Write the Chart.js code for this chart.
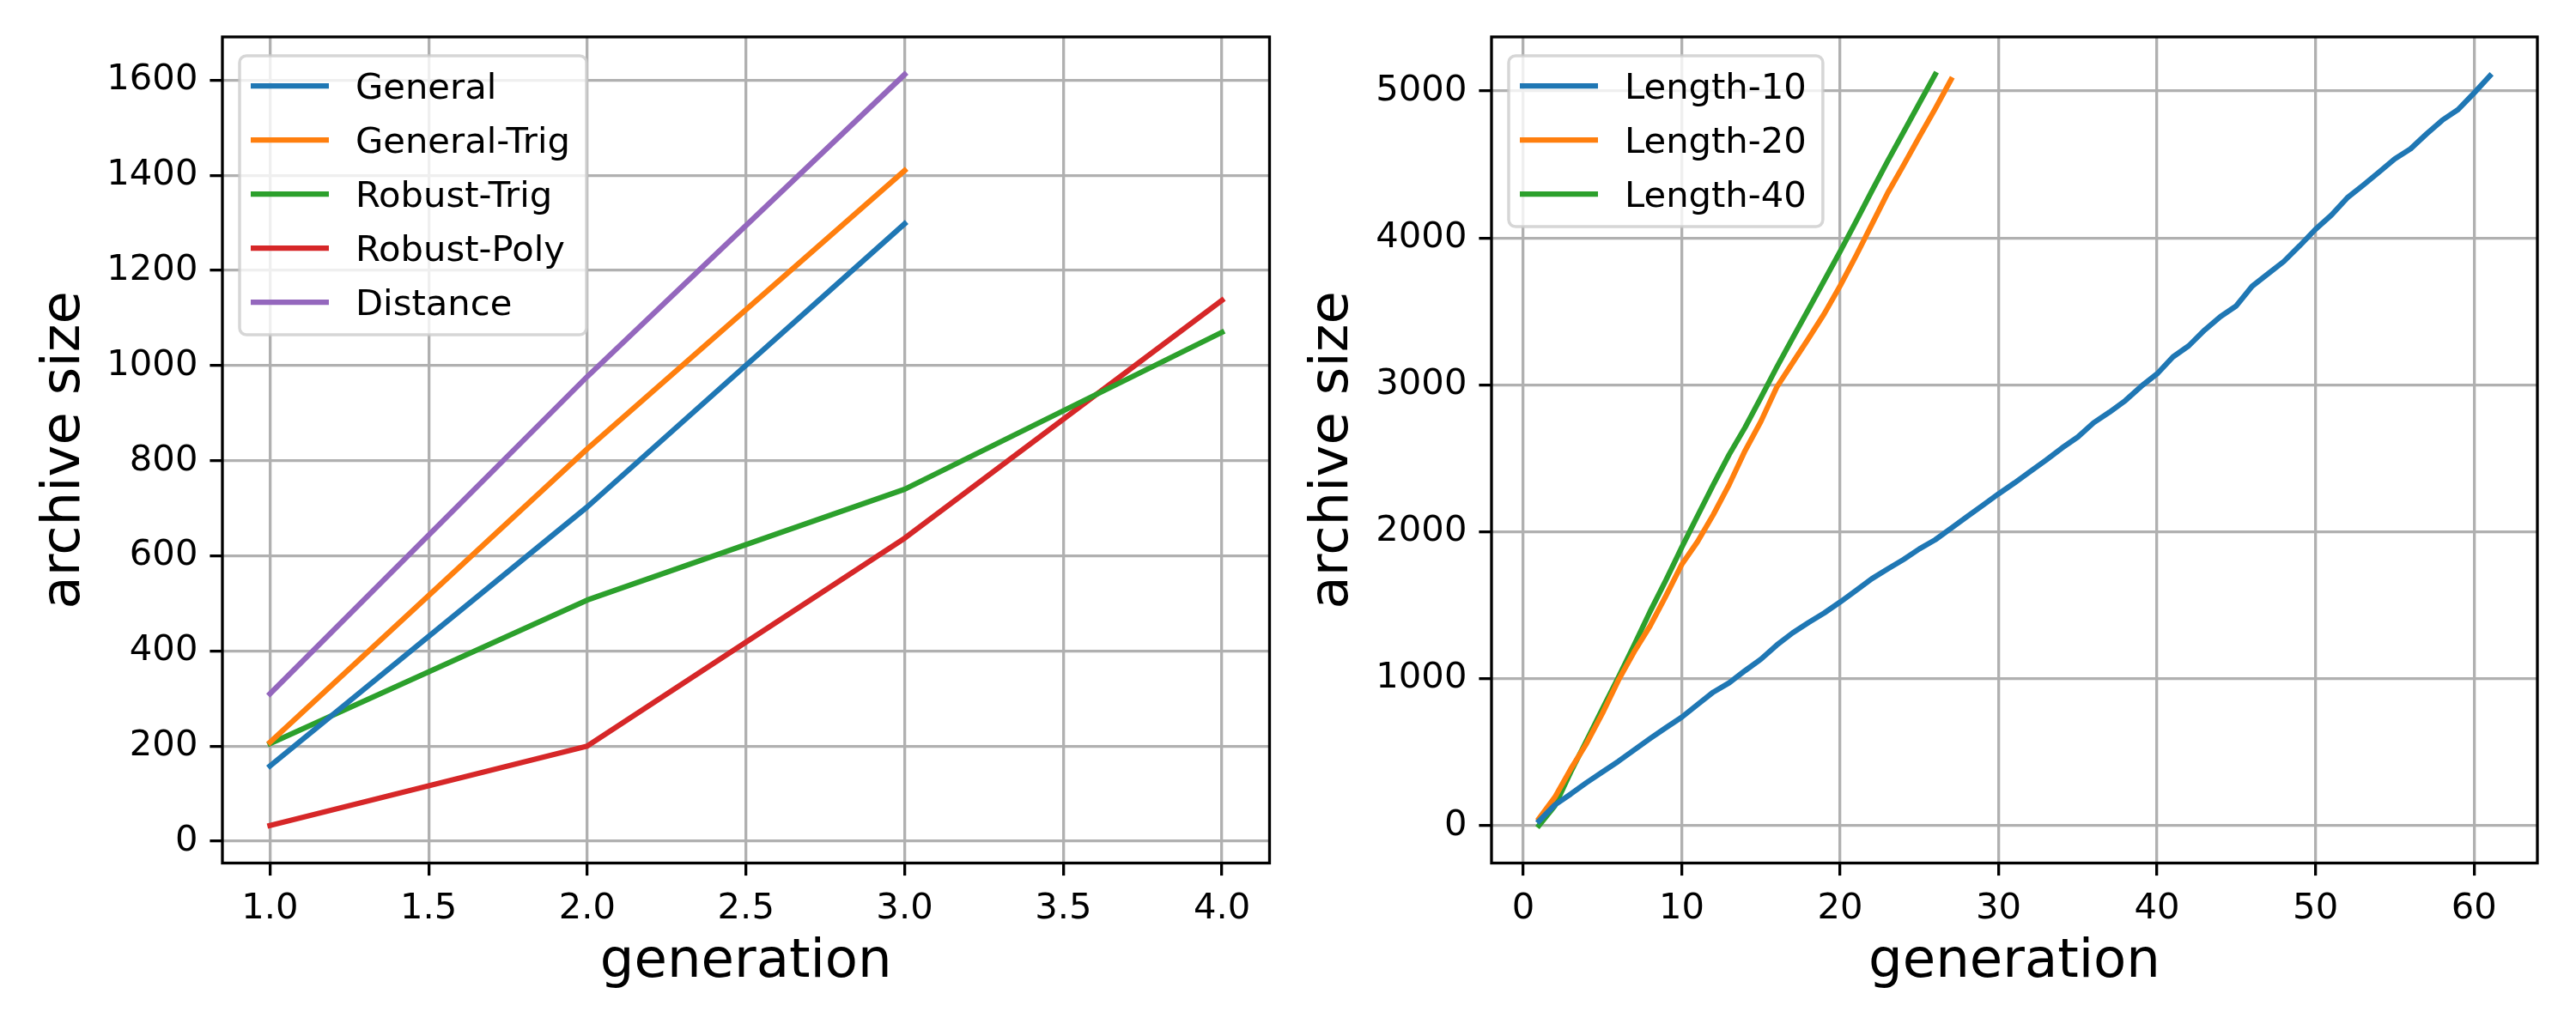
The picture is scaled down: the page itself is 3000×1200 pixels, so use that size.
<!DOCTYPE html>
<html>
<head>
<meta charset="utf-8">
<script src="https://cdn.jsdelivr.net/npm/chart.js@4/dist/chart.umd.min.js"></script>
<style>
body { margin: 0; background: #fff; }
#wrap { position: relative; width: 3000px; height: 1200px; }
canvas { position: absolute; top: 0; }
#leftChart { left: 0; }
#rightChart { left: 1500px; }
</style>
</head>
<body>
<div id="wrap">
<canvas id="leftChart" width="1500" height="1200"></canvas>
<canvas id="rightChart" width="1500" height="1200"></canvas>
</div>
<script>
const FONT = "'DejaVu Sans', sans-serif";
const TICK_PX = 41.7;
const TITLE_PX = 62.5;

// left panel
const gensLeft = [1, 2, 3, 4];
const general = [158, 703, 1298];
const generalTrig = [208, 825, 1410];
const robustTrig = [205, 507, 740, 1070];
const robustPoly = [33, 200, 637, 1137];
const distance = [310, 977, 1612];
const leftXTicks = [1.0, 1.5, 2.0, 2.5, 3.0, 3.5, 4.0];
const leftYTicks = [0, 200, 400, 600, 800, 1000, 1200, 1400, 1600];

// right panel
const gensRight = [1, 2, 3, 4, 5, 6, 7, 8, 9, 10, 11, 12, 13, 14, 15, 16, 17, 18, 19, 20,
    21, 22, 23, 24, 25, 26, 27, 28, 29, 30, 31, 32, 33, 34, 35, 36, 37, 38, 39, 40,
    41, 42, 43, 44, 45, 46, 47, 48, 49, 50, 51, 52, 53, 54, 55, 56, 57, 58, 59, 60, 61];
const length10 = [30, 140, 214, 292, 364, 436, 514, 591, 665, 737, 823, 908, 971, 1054, 1132,
    1228, 1311, 1381, 1447, 1521, 1600, 1680, 1746, 1811, 1883, 1945, 2023, 2102, 2180, 2258,
    2332, 2410, 2488, 2570, 2645, 2742, 2814, 2893, 2990, 3075, 3190, 3266, 3373, 3465, 3538,
    3671, 3756, 3840, 3947, 4059, 4156, 4273, 4359, 4448, 4539, 4607, 4708, 4802, 4874, 4986, 5103];
const length20 = [47, 193, 384, 559, 763, 987, 1182, 1357, 1562, 1776, 1932, 2117, 2321, 2551,
    2751, 2984, 3150, 3315, 3484, 3674, 3878, 4092, 4306, 4495, 4689, 4880, 5078];
const length40 = [0, 134, 364, 578, 793, 1007, 1227, 1455, 1669, 1893, 2107, 2321, 2526, 2710,
    2913, 3120, 3317, 3513, 3711, 3908, 4112, 4320, 4524, 4720, 4918, 5113];
const rightXTicks = [0, 10, 20, 30, 40, 50, 60];
const rightYTicks = [0, 1000, 2000, 3000, 4000, 5000];

const C = ['#1f77b4', '#ff7f0e', '#2ca02c', '#d62728', '#9467bd'];

function pts(xs, ys) {
    return ys.map((y, i) => ({ x: xs[i], y: y }));
}

function ds(label, xs, ys, color) {
    return {
        label: label,
        data: pts(xs, ys),
        borderColor: color,
        backgroundColor: color,
        borderWidth: 6.25,
        borderJoinStyle: 'round',
        borderCapStyle: 'square',
        pointRadius: 0,
        tension: 0,
        fill: false
    };
}

function axis(min, max, tickVals, fmt, title, size, isX, titlePad) {
    return {
        type: 'linear',
        min: min,
        max: max,
        afterBuildTicks: s => { s.ticks = tickVals.map(v => ({ value: v })); },
        afterFit: s => { if (isX) s.height = size; else s.width = size; },
        ticks: {
            color: '#000',
            font: { family: FONT, size: TICK_PX },
            padding: 14,
            autoSkip: false,
            maxRotation: 0,
            callback: v => fmt(v)
        },
        grid: { color: '#b0b0b0', lineWidth: 3.3, tickColor: '#000', tickWidth: 3.3, tickLength: 14.6 },
        border: { display: false },
        title: {
            display: true,
            text: title,
            color: '#000',
            font: { family: FONT, size: TITLE_PX, lineHeight: 1 },
            padding: titlePad
        }
    };
}

// axes box, drawn over the lines like matplotlib spines
const framePlugin = {
    id: 'frame',
    afterDatasetsDraw(chart) {
        const { ctx, chartArea: a } = chart;
        ctx.save();
        ctx.strokeStyle = '#000';
        ctx.lineWidth = 3.3;
        ctx.strokeRect(a.left, a.top, a.right - a.left, a.bottom - a.top);
        ctx.restore();
    }
};

// legend in the upper left corner of the axes
const boxLegend = {
    id: 'boxLegend',
    afterDraw(chart) {
        const { ctx, chartArea: a } = chart;
        const sets = chart.data.datasets;
        ctx.save();
        ctx.font = TICK_PX + 'px ' + FONT;
        let maxW = 0;
        sets.forEach(d => { maxW = Math.max(maxW, ctx.measureText(d.label).width); });
        const bx = a.left + 20, by = a.top + 22;
        const textX = a.left + 155;
        const bw = textX + maxW + 19 - bx;
        const bh = sets.length * 63 + 10;
        ctx.beginPath();
        ctx.roundRect(bx, by, bw, bh, 8);
        ctx.fillStyle = 'rgba(255,255,255,0.8)';
        ctx.fill();
        ctx.strokeStyle = 'rgba(204,204,204,0.8)';
        ctx.lineWidth = 3.5;
        ctx.stroke();
        sets.forEach((d, i) => {
            const y = a.top + 57 + i * 63;
            ctx.beginPath();
            ctx.moveTo(a.left + 33, y);
            ctx.lineTo(a.left + 124, y);
            ctx.strokeStyle = d.borderColor;
            ctx.lineWidth = 6.25;
            ctx.stroke();
            ctx.fillStyle = '#000';
            ctx.textBaseline = 'alphabetic';
            ctx.textAlign = 'left';
            ctx.fillText(d.label, textX, y + 15);
        });
        ctx.restore();
    }
};

const common = {
    responsive: false,
    animation: false,
    devicePixelRatio: 1,
    plugins: { legend: { display: false }, tooltip: { enabled: false } }
};

new Chart(document.getElementById('leftChart'), {
    type: 'line',
    data: {
        datasets: [
            ds('General', gensLeft, general, C[0]),
            ds('General-Trig', gensLeft, generalTrig, C[1]),
            ds('Robust-Trig', gensLeft, robustTrig, C[2]),
            ds('Robust-Poly', gensLeft, robustPoly, C[3]),
            ds('Distance', gensLeft, distance, C[4])
        ]
    },
    options: Object.assign({}, common, {
        layout: { padding: { top: 43, right: 21.5, left: 0, bottom: 0 } },
        scales: {
            x: axis(0.85, 4.15, leftXTicks, v => v.toFixed(1), 'generation', 194.5, true, { top: 0, bottom: 46.75 }),
            y: axis(-46, 1691, leftYTicks, v => String(v), 'archive size', 259, false, { top: 44.75, bottom: 0 })
        }
    }),
    plugins: [framePlugin, boxLegend]
});

new Chart(document.getElementById('rightChart'), {
    type: 'line',
    data: {
        datasets: [
            ds('Length-10', gensRight, length10, C[0]),
            ds('Length-20', gensRight, length20, C[1]),
            ds('Length-40', gensRight, length40, C[2])
        ]
    },
    options: Object.assign({}, common, {
        layout: { padding: { top: 43, right: 45, left: 0, bottom: 0 } },
        scales: {
            x: axis(-2, 64, rightXTicks, v => String(v), 'generation', 194.5, true, { top: 0, bottom: 46.75 }),
            y: axis(-256, 5369, rightYTicks, v => String(v), 'archive size', 237, false, { top: 21.75, bottom: 0 })
        }
    }),
    plugins: [framePlugin, boxLegend]
});
</script>
</body>
</html>
